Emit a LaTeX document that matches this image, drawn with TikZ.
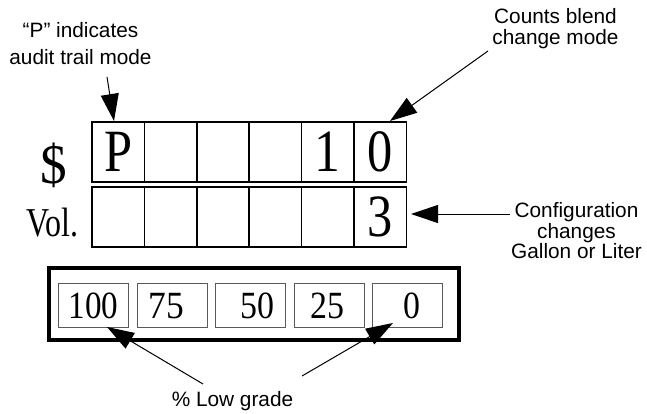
\documentclass[tikz,border=0pt]{standalone}
\usepackage{fontspec}
\setmainfont{Liberation Serif}
\newfontfamily\lsans{Liberation Sans}
\usetikzlibrary{arrows.meta}
\begin{document}
\begin{tikzpicture}[x=1pt,y=-1pt,
  cell/.style={draw, line width=1.5pt, minimum width=52.4pt, minimum height=60pt, inner sep=0pt, outer sep=0pt},
  digit/.style={inner sep=0pt, font=\fontsize{60}{60}\selectfont},
  pbox/.style={draw=black!65, line width=1pt, minimum width=70pt, minimum height=44pt, inner sep=0pt},
  pnum/.style={inner sep=0pt, font=\fontsize{38.5}{38.5}\selectfont},
  lbl/.style={inner sep=0pt, align=center, font=\lsans\fontsize{20.8}{20.5}\selectfont},
  arr/.style={line width=1pt, -{Triangle[length=27pt,width=18pt]}}]
\useasboundingbox (0,0) rectangle (647,414);
% top rows
\foreach \i in {1,...,6} {
  \node[cell] (a\i) at ({92+26.2+52.4*(\i-1)},152) {};
  \node[cell] (b\i) at ({92+26.2+52.4*(\i-1)},217) {};
}
\draw[line width=2.5pt] (a5.north west) -- (a6.north east);
\node[digit] (tP) at (a1.center) {\scalebox{0.84}[1]{P}};
\node[digit] (t1) at (a5.center) {\scalebox{0.86}[1]{1}};
\node[digit] (t0) at (a6.center) {\scalebox{0.84}[1]{0}};
\node[digit] (t3) at (b6.center) {\scalebox{0.84}[1]{3}};
\node[inner sep=0pt, font=\fontsize{56}{56}\selectfont] (dollar) at (53.5,165) {\scalebox{0.95}[1]{\$}};
\node[inner sep=0pt, anchor=base, font=\fontsize{41}{41}\selectfont] (vol) at (52.5,236.7) {\scalebox{0.78}[1]{Vol.}};
% bottom panel
\node[draw, line width=3.5pt, minimum width=410pt, minimum height=72pt, inner sep=0pt] (panel) at (254,304) {};
\node[pbox] (p1) at (93,305) {};
\node[pbox] (p2) at (172,305) {};
\node[pbox] (p3) at (250.5,305) {};
\node[pbox] (p4) at (329,305) {};
\node[pbox] (p5) at (407.5,305) {};
\node[pnum] (n1) at (93.7,306) {\scalebox{0.86}[1]{100}};
\node[pnum] (n2) at (166,306) {\scalebox{0.92}[1]{75}};
\node[pnum] (n3) at (257.5,306) {\scalebox{0.88}[1]{50}};
\node[pnum] (n4) at (327.5,306) {\scalebox{0.88}[1]{25}};
\node[pnum] (n5) at (412,306) {\scalebox{0.88}[1]{0}};
% labels
\node[lbl, font=\lsans\fontsize{20.8}{27.5}\selectfont] (audit) at (80.5,43.6) {“P” indicates\\audit trail mode};
\node[lbl, font=\lsans\fontsize{20.8}{21}\selectfont] (blend) at (555.5,29) {Counts blend\\change mode};
\node[lbl] (config) at (576.5,231) {Configuration\\changes\\Gallon or Liter};
\node[inner sep=0pt, anchor=base, font=\lsans\fontsize{20.8}{21}\selectfont] (low) at (232.5,406.5) {\% Low grade};
% arrows
\coordinate (s1) at (107,77);
\coordinate (e1) at (114,121);
\coordinate (s2) at (488,51);
\coordinate (e2) at (390,121);
\coordinate (s3) at (510,214);
\coordinate (e3) at (411,214);
\coordinate (s4) at (203,384);
\coordinate (e4) at (107,327);
\coordinate (s5) at (302,376);
\coordinate (e5) at (393,323);
\draw[arr] (s1) -- (e1);
\draw[arr] (s2) -- (e2);
\draw[arr] (s3) -- (e3);
\draw[arr] (s4) -- (e4);
\draw[arr] (s5) -- (e5);
\end{tikzpicture}
\end{document}
